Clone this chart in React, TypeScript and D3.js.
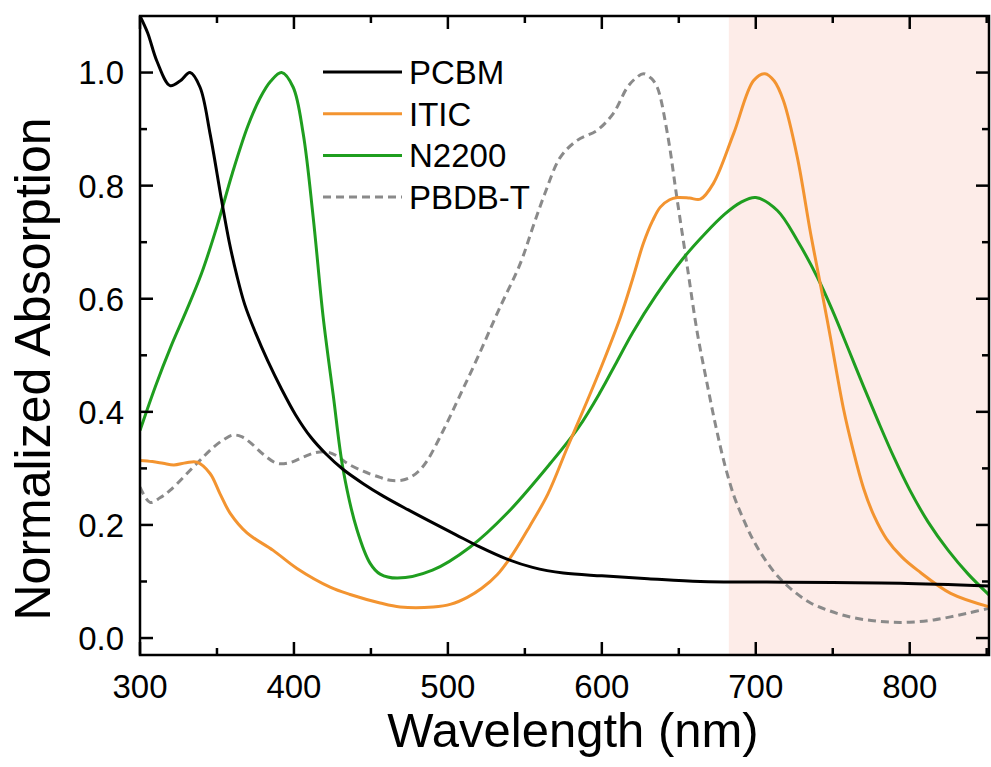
import React from 'react'
import * as d3 from 'd3'

type Pt = [number, number]

// wavelength (nm), normalized absorption
const pcbm: Pt[] = [
  [300, 1.10], [305, 1.07], [311, 1.02], [319.5, 0.977], [326, 0.985], [332.5, 1.0],
  [339, 0.974], [345.5, 0.892], [353, 0.774], [358, 0.70], [363, 0.64], [368, 0.59],
  [375, 0.54], [383, 0.49], [392, 0.44], [401, 0.395], [411, 0.355], [421, 0.325],
  [432, 0.298], [445, 0.273], [458, 0.251], [474, 0.227], [490, 0.204], [505, 0.183],
  [520, 0.162], [538, 0.14], [555, 0.125], [575, 0.115], [600, 0.110], [630, 0.105],
  [664, 0.100], [707, 0.099], [750, 0.098], [794, 0.097], [852, 0.092]
]

const itic: Pt[] = [
  [300, 0.314], [308, 0.312], [315, 0.309], [322, 0.306], [330, 0.31], [337, 0.311],
  [345.5, 0.291], [352, 0.255], [358.5, 0.221], [369.5, 0.186], [386.5, 0.155], [402, 0.123],
  [423.5, 0.09], [436.5, 0.077], [456, 0.062], [469, 0.055], [490.5, 0.055], [502, 0.06],
  [512.6, 0.072], [522, 0.088], [532, 0.112], [542, 0.148], [553, 0.197], [565, 0.255],
  [577.6, 0.337], [590.6, 0.42], [600, 0.482], [612, 0.567], [620, 0.635], [627, 0.698],
  [633, 0.738], [638, 0.762], [644, 0.775], [649, 0.779], [657, 0.778], [664, 0.776],
  [672.5, 0.804], [685.6, 0.892], [698.6, 0.986], [706, 0.998], [712, 0.985], [718, 0.95],
  [727, 0.85], [735.6, 0.716], [744, 0.597], [748.6, 0.53], [757, 0.405], [763, 0.335],
  [770, 0.265], [777, 0.215], [785, 0.175], [795, 0.143], [805, 0.12], [826.6, 0.079],
  [852, 0.055]
]

const n2200: Pt[] = [
  [300, 0.367], [310, 0.445], [320, 0.515], [330, 0.578], [340, 0.645], [350, 0.728],
  [360, 0.822], [370, 0.905], [378, 0.955], [385, 0.985], [392, 1.0], [399.5, 0.974],
  [406, 0.892], [412.5, 0.744], [419, 0.567], [425.5, 0.43], [432, 0.297], [441, 0.191],
  [449.5, 0.132], [456, 0.113], [467, 0.106], [490, 0.12], [514.5, 0.161], [538.6, 0.221],
  [566.6, 0.309], [585, 0.373], [599, 0.435], [610, 0.49], [620, 0.54], [635, 0.605],
  [653, 0.672], [667, 0.715], [680, 0.75], [690, 0.77], [700, 0.779], [714, 0.756],
  [727, 0.703], [740, 0.638], [750, 0.578], [760, 0.512], [770, 0.445], [780, 0.38],
  [790, 0.318], [800, 0.262], [812, 0.205], [825, 0.155], [838, 0.113], [852, 0.075]
]

const pbdbt: Pt[] = [
  [300, 0.267], [306.5, 0.24], [313, 0.248], [319.5, 0.261], [337, 0.309], [347.5, 0.337],
  [355, 0.352], [360.5, 0.359], [366, 0.356], [371.5, 0.346], [380, 0.325], [389, 0.309],
  [397, 0.31], [406, 0.32], [414, 0.328], [421.6, 0.329], [428, 0.322], [434.6, 0.309],
  [445, 0.295], [456, 0.284], [462.5, 0.279], [470, 0.279], [475.5, 0.284], [481, 0.295],
  [486.6, 0.314], [497, 0.367], [508, 0.43], [520, 0.50], [533, 0.58], [547, 0.662],
  [555, 0.725], [563, 0.786], [573, 0.85], [584, 0.88], [597, 0.898], [607.5, 0.928],
  [616.6, 0.974], [622, 0.99], [627, 0.998], [632, 0.99], [636, 0.974], [642.6, 0.892],
  [649, 0.774], [655.6, 0.655], [662, 0.54], [668, 0.455], [674, 0.375], [680, 0.305],
  [686, 0.25], [692, 0.21], [698, 0.175], [705, 0.143], [714, 0.11], [725, 0.082],
  [735.6, 0.062], [748, 0.048], [761.6, 0.037], [775, 0.031], [787.6, 0.028], [800, 0.028],
  [815.6, 0.032], [837.7, 0.044], [852, 0.053]
]

const series = [
  { name: 'PCBM', data: pcbm, color: '#000000', dash: '' },
  { name: 'ITIC', data: itic, color: '#f39430', dash: '' },
  { name: 'N2200', data: n2200, color: '#1f9e1f', dash: '' },
  { name: 'PBDB-T', data: pbdbt, color: '#8a8a8a', dash: '8,5' }
]

const xMajor = [300, 400, 500, 600, 700, 800]
const xMinor = [350, 450, 550, 650, 750, 850]
const yMajor = [0, 0.2, 0.4, 0.6, 0.8, 1.0]
const yMinor = [0.1, 0.3, 0.5, 0.7, 0.9]
const nirBand = [682.5, 852]

const W = 991
const H = 767
const left = 140
const right = 989
const top = 16
const bottom = 655
const font = 'Liberation Sans, Arial, sans-serif'

export default function App () {
  const x = d3.scaleLinear().domain([300, 851.5]).range([left, right])
  const y = d3.scaleLinear().domain([-0.03, 1.1]).range([bottom, top])

  const line = d3.line<Pt>()
    .x(d => x(d[0]))
    .y(d => y(d[1]))
    .curve(d3.curveCatmullRom.alpha(0.5))

  const drawOrder = [series[3], series[2], series[1], series[0]]

  return (
    <svg width={W} height={H} style={{ position: 'absolute', left: 0, top: 0, background: '#fff' }}>
      <defs>
        <clipPath id='plot'>
          <rect x={left} y={top} width={right - left} height={bottom - top} />
        </clipPath>
      </defs>

      <rect
        x={x(nirBand[0])} y={top}
        width={Math.min(x(nirBand[1]), right) - x(nirBand[0])} height={bottom - top}
        fill='#fdece8'
      />

      <g clipPath='url(#plot)'>
        {drawOrder.map(s => (
          <path key={s.name} d={line(s.data) || ''} fill='none' stroke={s.color}
            strokeWidth={3} strokeDasharray={s.dash || undefined} strokeLinejoin='round' />
        ))}
      </g>

      <rect x={left} y={top} width={right - left} height={bottom - top}
        fill='none' stroke='#000' strokeWidth={2.5} />

      {xMajor.map(v => (
        <g key={'xM' + v}>
          <line x1={x(v)} x2={x(v)} y1={bottom} y2={bottom - 13} stroke='#000' strokeWidth={2.5} />
          <line x1={x(v)} x2={x(v)} y1={top} y2={top + 13} stroke='#000' strokeWidth={2.5} />
          <text x={x(v)} y={698} textAnchor='middle' fontFamily={font} fontSize={33}>{v}</text>
        </g>
      ))}
      {xMinor.map(v => (
        <g key={'xm' + v}>
          <line x1={x(v)} x2={x(v)} y1={bottom} y2={bottom - 7} stroke='#000' strokeWidth={2.5} />
          <line x1={x(v)} x2={x(v)} y1={top} y2={top + 7} stroke='#000' strokeWidth={2.5} />
        </g>
      ))}
      {yMajor.map(v => (
        <g key={'yM' + v}>
          <line x1={left} x2={left + 13} y1={y(v)} y2={y(v)} stroke='#000' strokeWidth={2.5} />
          <line x1={right} x2={right - 13} y1={y(v)} y2={y(v)} stroke='#000' strokeWidth={2.5} />
          <text x={124} y={y(v)} dy='0.36em' textAnchor='end' fontFamily={font} fontSize={33}>
            {v.toFixed(1)}
          </text>
        </g>
      ))}
      {yMinor.map(v => (
        <g key={'ym' + v}>
          <line x1={left} x2={left + 7} y1={y(v)} y2={y(v)} stroke='#000' strokeWidth={2.5} />
          <line x1={right} x2={right - 7} y1={y(v)} y2={y(v)} stroke='#000' strokeWidth={2.5} />
        </g>
      ))}

      <text x={573} y={747} textAnchor='middle' fontFamily={font} fontSize={49}>Wavelength (nm)</text>
      <text transform='translate(50,369) rotate(-90)' textAnchor='middle' fontFamily={font} fontSize={50}>
        Normalized Absorption
      </text>

      {series.map((s, i) => (
        <g key={'lg' + s.name} transform={`translate(0,${72 + i * 41.7})`}>
          <line x1={323} x2={402} y1={0} y2={0} stroke={s.color} strokeWidth={3}
            strokeDasharray={s.dash || undefined} />
          <text x={409} y={0} dy='0.36em' fontFamily={font} fontSize={33}>{s.name}</text>
        </g>
      ))}
    </svg>
  )
}
